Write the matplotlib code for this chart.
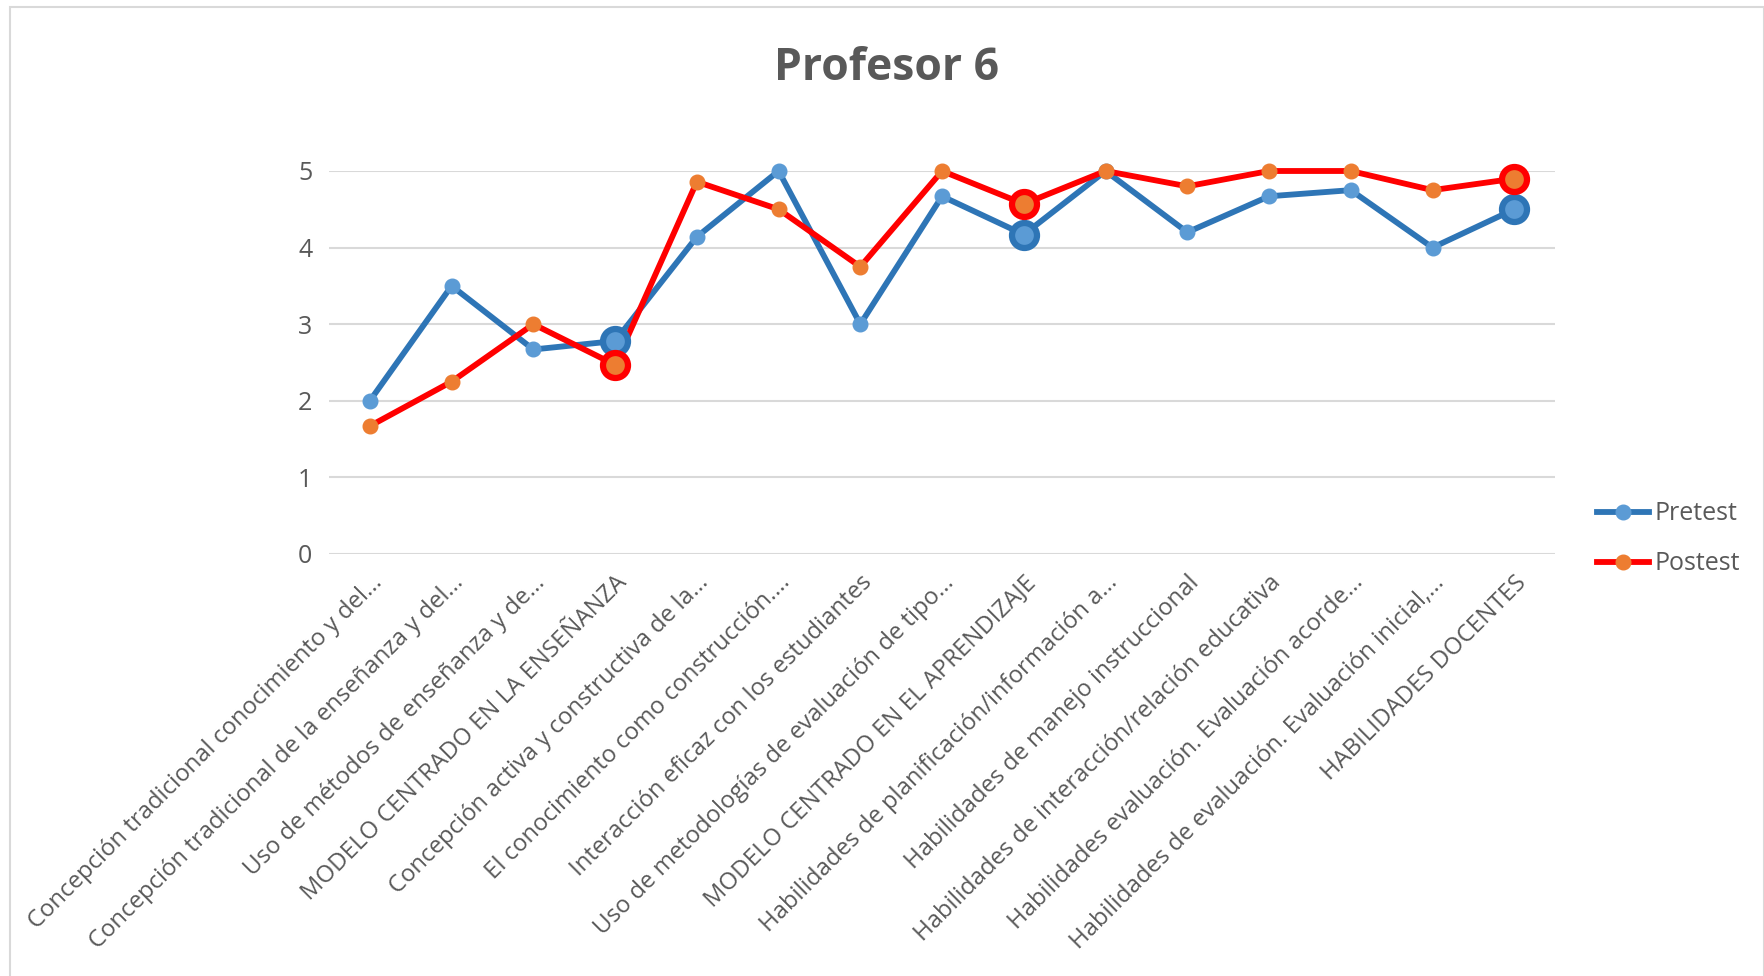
import matplotlib

matplotlib.use("Agg")

import matplotlib.pyplot as plt
from matplotlib.lines import Line2D
from matplotlib.patches import Rectangle

categories = [
    "Concepción tradicional conocimiento y del...",
    "Concepción tradicional de la enseñanza y del...",
    "Uso de métodos de enseñanza y de...",
    "MODELO CENTRADO EN LA ENSEÑANZA",
    "Concepción activa y constructiva de la...",
    "El conocimiento como construcción....",
    "Interacción eficaz con los estudiantes",
    "Uso de metodologías de evaluación de tipo...",
    "MODELO CENTRADO EN EL APRENDIZAJE",
    "Habilidades de planificación/información a...",
    "Habilidades de manejo instruccional",
    "Habilidades de interacción/relación educativa",
    "Habilidades evaluación. Evaluación acorde...",
    "Habilidades de evaluación. Evaluación inicial,...",
    "HABILIDADES DOCENTES",
]
pretest = [2.0, 3.5, 2.67, 2.78, 4.14, 5.0, 3.0, 4.67, 4.17, 5.0, 4.2, 4.67, 4.75, 4.0, 4.5]
postest = [1.67, 2.25, 3.0, 2.47, 4.86, 4.5, 3.75, 5.0, 4.57, 5.0, 4.8, 5.0, 5.0, 4.75, 4.9]
y_ticks = [0, 1, 2, 3, 4, 5]

FONT = "Open Sans"
TEXT_GREY = "#595959"

series = [
    ("Pretest", pretest, "#2E75B6", "#5B9BD5"),
    ("Postest", postest, "#FF0000", "#ED7D31"),
]

# summary rows (block totals) are written in capitals and get a bigger marker
summary_idx = [i for i, c in enumerate(categories) if c.isupper()]

fig = plt.figure(figsize=(17.65, 9.76), dpi=100)
ax = fig.add_axes([0.1864, 0.4324, 0.6947, 0.3924])

x = list(range(len(categories)))
for name, values, line_col, marker_col in series:
    ax.plot(x, values, color=line_col, lw=4.2, marker="o", ms=10.5,
            mfc=marker_col, mec=marker_col, clip_on=False, zorder=3)
    ax.plot([x[i] for i in summary_idx], [values[i] for i in summary_idx],
            ls="none", marker="o", ms=18, mfc=marker_col, mec=line_col,
            mew=4.5, clip_on=False, zorder=4)

ax.set_xlim(-0.5, len(categories) - 0.5)
ax.set_ylim(0, 5)
ax.set_yticks(y_ticks)
ax.set_xticks(x)
ax.set_xticklabels(categories, rotation=45, ha="right", va="top",
                   rotation_mode="anchor", fontsize=17.2, color=TEXT_GREY,
                   family=FONT)
for lbl in ax.get_yticklabels():
    lbl.set_family(FONT)
ax.tick_params(axis="y", length=0, pad=12, labelsize=18, labelcolor=TEXT_GREY)
ax.tick_params(axis="x", length=0, pad=12)
ax.grid(axis="y", color="#D9D9D9", lw=1.5)
ax.set_axisbelow(True)
for side in ax.spines.values():
    side.set_visible(False)

fig.text(0.5025, 0.93, "Profesor 6", ha="center", va="center", fontsize=32,
         fontweight="bold", color=TEXT_GREY, family=FONT)

handles = [
    Line2D([], [], color=line_col, lw=4.2, marker="o", ms=10.5,
           mfc=marker_col, mec=marker_col)
    for _, _, line_col, marker_col in series
]
fig.legend(handles, [s[0] for s in series], loc="center left",
           bbox_to_anchor=(0.892, 0.448), frameon=False, handlelength=2.1,
           handletextpad=0.2, labelspacing=1.0,
           prop={"family": FONT, "size": 18}, labelcolor=TEXT_GREY)

# light chart-area frame
fig.add_artist(Rectangle((0.0057, -0.01), 0.9937, 1.003, transform=fig.transFigure,
                         fill=False, ec="#D9D9D9", lw=1.5))

fig.savefig("out.png", dpi=100)
